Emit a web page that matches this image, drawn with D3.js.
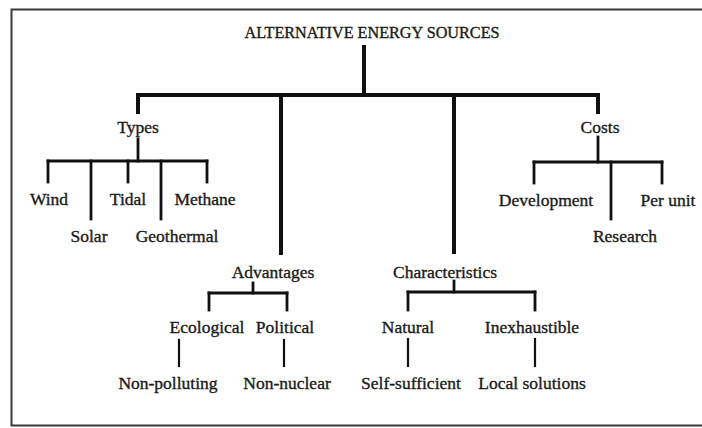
<!DOCTYPE html>
<html>
<head>
<meta charset="utf-8">
<script src="https://cdn.jsdelivr.net/npm/d3@7"></script>
<style>
  html, body { margin: 0; padding: 0; background: #fff; }
  svg { display: block; }
  text { font-family: "Liberation Serif", "Times New Roman", serif; fill: #1a1a1a; stroke: #1a1a1a; stroke-width: 0.35px; }
</style>
</head>
<body>
<svg id="chart" width="702" height="428"></svg>
<script>
// Tree content
const rootLabel = 'ALTERNATIVE ENERGY SOURCES'
const branches = ['Types', 'Advantages', 'Characteristics', 'Costs']
const typeItems = ['Wind', 'Solar', 'Tidal', 'Geothermal', 'Methane']
const advantageItems = ['Ecological', 'Political']
const advantageDetails = ['Non-polluting', 'Non-nuclear']
const characteristicItems = ['Natural', 'Inexhaustible']
const characteristicDetails = ['Self-sufficient', 'Local solutions']
const costItems = ['Development', 'Research', 'Per unit']

// Hand-placed layout for each box (label centre x/y, where lines come in / go out, bar height)
const layout = {
  'ALTERNATIVE ENERGY SOURCES': { x: 372, y: 33, outX: 364, bar: 95, outY: 47 },
  'Types':           { x: 138, y: 127, inX: 138, inY: 112, outX: 138, bar: 161, outY: 139 },
  'Advantages':      { x: 273, y: 272, inX: 281, inY: 253, outX: 253, bar: 293, outY: 283 },
  'Characteristics': { x: 445, y: 272, inX: 454, inY: 252, outX: 454, bar: 292, outY: 281 },
  'Costs':           { x: 600, y: 127, inX: 598, inY: 112, outX: 598, bar: 162, outY: 137 },
  'Wind':        { x: 49,  y: 199, inX: 48 },
  'Solar':       { x: 89,  y: 236, inX: 91 },
  'Tidal':       { x: 128, y: 199, inX: 128 },
  'Geothermal':  { x: 177, y: 236, inX: 161 },
  'Methane':     { x: 205, y: 199, inX: 207 },
  'Ecological':  { x: 207, y: 327, inX: 209, outX: 179, outY: 340 },
  'Political':   { x: 285, y: 327, inX: 287, outX: 284, outY: 340 },
  'Natural':     { x: 408, y: 327, inX: 408, outX: 408, outY: 339 },
  'Inexhaustible': { x: 532, y: 327, inX: 535, outX: 535, outY: 339 },
  'Non-polluting':   { x: 168, y: 383, inX: 179 },
  'Non-nuclear':     { x: 287, y: 383, inX: 284 },
  'Self-sufficient': { x: 411, y: 383, inX: 408 },
  'Local solutions': { x: 532, y: 383, inX: 535 },
  'Development': { x: 546, y: 200, inX: 534 },
  'Research':    { x: 625, y: 236, inX: 611 },
  'Per unit':    { x: 668, y: 200, inX: 662 }
}

const leaf = name => ({ name })
const withDetail = (items, details) => items.map((n, i) => ({ name: n, children: [leaf(details[i])] }))

const treeData = {
  name: rootLabel,
  children: [
    { name: branches[0], children: typeItems.map(leaf) },
    { name: branches[1], children: withDetail(advantageItems, advantageDetails) },
    { name: branches[2], children: withDetail(characteristicItems, characteristicDetails) },
    { name: branches[3], children: costItems.map(leaf) }
  ]
}

const root = d3.hierarchy(treeData)
root.each(d => Object.assign(d, layout[d.data.name]))

const svg = d3.select('#chart')

// frame of the scanned page
svg.append('path')
  .attr('d', 'M706,9.5 H11.5 V425.5 H706')
  .attr('fill', 'none')
  .attr('stroke', '#3a3a3a')
  .attr('stroke-width', 2)

const widthFor = depth => depth === 0 ? 4 : depth === 1 ? 2.8 : 2.2
const line = d3.line()
const lines = svg.append('g').attr('fill', 'none').attr('stroke', '#111').attr('stroke-linecap', 'square')

root.descendants().filter(d => d.children).forEach(p => {
  const w = widthFor(p.depth)
  const endY = c => c.inY != null ? c.inY : c.y - 17
  if (p.children.length === 1) {
    const c = p.children[0]
    lines.append('path').attr('stroke-width', w)
      .attr('d', line([[p.outX, p.outY], [c.inX, endY(c)]]))
    return
  }
  const xs = p.children.map(c => c.inX)
  lines.append('path').attr('stroke-width', w)
    .attr('d', line([[p.outX, p.outY], [p.outX, p.bar]]))
  lines.append('path').attr('stroke-width', w)
    .attr('d', line([[d3.min(xs), p.bar], [d3.max(xs), p.bar]]))
  lines.selectAll(null)
    .data(p.children)
    .join('path')
    .attr('stroke-width', w)
    .attr('d', c => line([[c.inX, p.bar], [c.inX, endY(c)]]))
})

svg.append('g')
  .selectAll('text')
  .data(root.descendants())
  .join('text')
  .attr('x', d => d.x)
  .attr('y', d => d.y)
  .attr('text-anchor', 'middle')
  .attr('dominant-baseline', 'central')
  .attr('font-size', d => d.depth === 0 ? '16.2px' : '17.5px')
  .text(d => d.data.name)
</script>
</body>
</html>
